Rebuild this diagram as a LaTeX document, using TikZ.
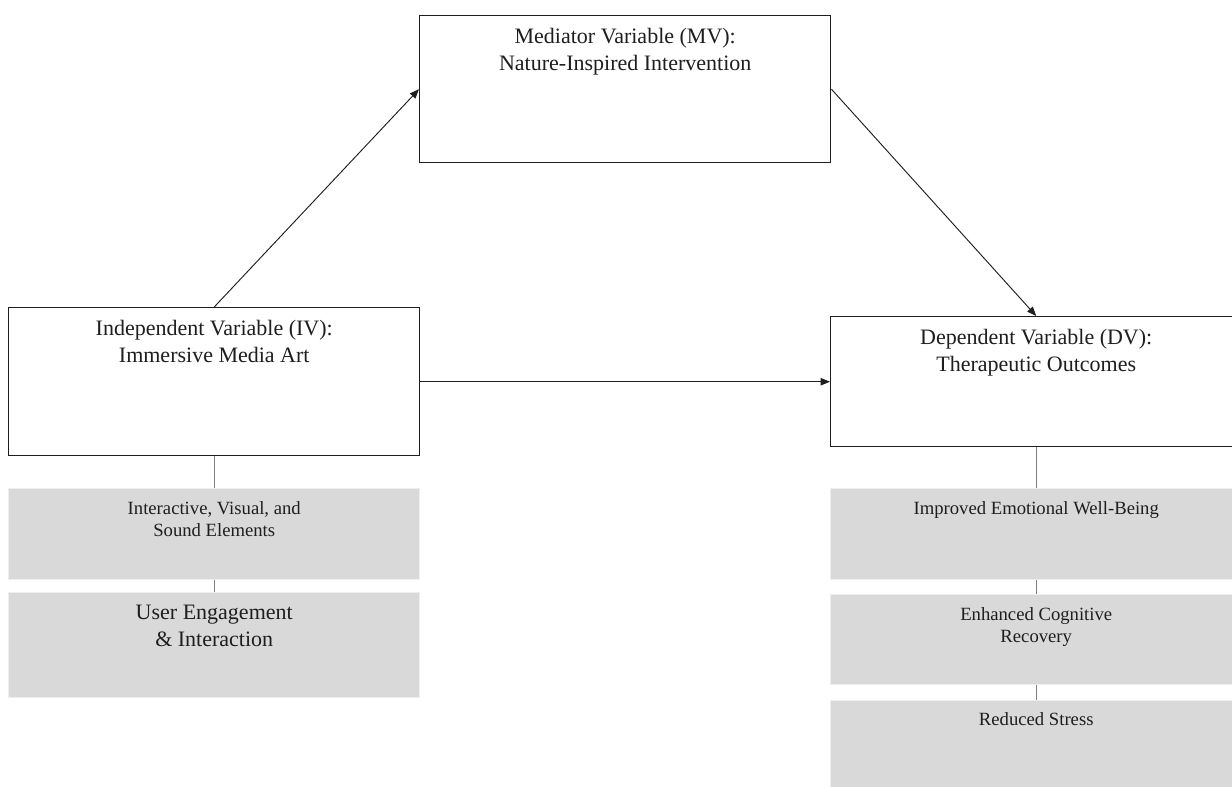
\documentclass[tikz,border=0pt]{standalone}
\usepackage{fontspec}
\setmainfont{Liberation Serif}
\usetikzlibrary{arrows.meta,positioning}
\definecolor{Ink}{HTML}{1E1E1E}
\definecolor{Panel}{HTML}{D9D9D9}
\definecolor{Rule}{HTML}{808080}

\begin{document}
\begin{tikzpicture}[
    varbox/.style={draw=Ink,line width=1.1pt,fill=white,minimum width=308.25pt,
      inner sep=0pt,anchor=north west},
    vartext/.style={anchor=north,align=center,inner sep=0pt,yshift=-9.5pt,
      font=\fontsize{16.5}{20.25}\selectfont,text=Ink},
    subbox/.style={draw=Panel!45,line width=0.5pt,fill=Panel,minimum width=308.25pt,inner sep=0pt},
    subtext/.style={anchor=north,align=center,inner sep=0pt,yshift=-9.5pt,
      font=\fontsize{14}{16.8}\selectfont,text=Ink},
    arr/.style={-{Triangle[length=7pt,width=5.5pt]},line width=0.7pt,Ink},
    link/.style={line width=0.9pt,Rule}
  ]
    \useasboundingbox (0,0) rectangle (924pt,-590.25pt);
    % the three variables
    \node[varbox,minimum height=111pt,
      label={[vartext]north:{Independent Variable (IV):\\Immersive Media Art}}] (iv) at (6pt,-230.25pt) {};
    \node[varbox,minimum height=110.25pt,
      label={[vartext]north:{Mediator Variable (MV):\\Nature-Inspired Intervention}}] (mv) at (314.25pt,-11.25pt) {};
    \node[varbox,minimum height=97.5pt,
      label={[vartext]north:{Dependent Variable (DV):\\Therapeutic Outcomes}}] (dv) at (622.5pt,-237pt) {};
    % components below IV
    \node[subbox,minimum height=68.25pt,below=24pt of iv,
      label={[subtext]north:{Interactive, Visual, and\\Sound Elements}}] (ivA) {};
    \node[subbox,minimum height=78.75pt,below=9pt of ivA,
      label={[vartext]north:{User Engagement\\\& Interaction}}] (ivB) {};
    % outcomes below DV
    \node[subbox,minimum height=68.25pt,below=30.75pt of dv,
      label={[subtext]north:{Improved Emotional Well-Being}}] (dvA) {};
    \node[subbox,minimum height=67.5pt,below=10.5pt of dvA,
      label={[subtext]north:{Enhanced Cognitive\\Recovery}}] (dvB) {};
    \node[subbox,minimum height=67.5pt,below=11.25pt of dvB,
      label={[subtext]north:{Reduced Stress}}] (dvC) {};
    % paths
    \draw[arr](iv.north)--(mv.west);
    \draw[arr](mv.east)--(dv.north);
    \draw[arr](iv.east)--(dv.west);
    \draw[link](iv)--(ivA);
    \draw[link](ivA)--(ivB);
    \draw[link](dv)--(dvA);
    \draw[link](dvA)--(dvB);
    \draw[link](dvB)--(dvC);
  \end{tikzpicture}
\end{document}
